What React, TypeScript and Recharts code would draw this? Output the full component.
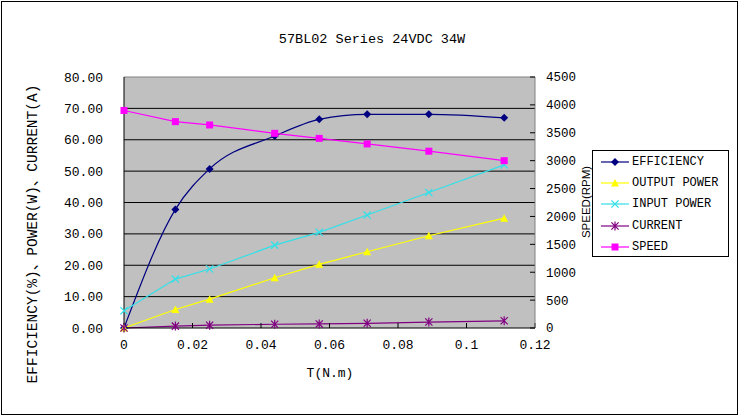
import React from 'react';
import { LineChart, Line, XAxis, YAxis, CartesianGrid, ReferenceLine } from 'recharts';

const TITLE = '57BL02 Series 24VDC 34W';
const TORQUE = [0, 0.015, 0.025, 0.044, 0.057, 0.071, 0.089, 0.111];
const EFFICIENCY = [0, 37.8, 50.7, 61.2, 66.5, 68.1, 68.1, 67.0];
const OUTPUT_POWER = [0, 5.9, 9.2, 16.0, 20.3, 24.3, 29.4, 35.0];
const INPUT_POWER = [5.5, 15.6, 18.8, 26.4, 30.5, 36.0, 43.2, 52.0];
const CURRENT = [0, 0.6, 0.9, 1.2, 1.3, 1.5, 1.9, 2.3];
const SPEED = [3900, 3700, 3640, 3490, 3400, 3300, 3170, 3000];
const SERIES_NAMES = ['EFFICIENCY', 'OUTPUT POWER', 'INPUT POWER', 'CURRENT', 'SPEED'];
const X_TICKS = [0, 0.02, 0.04, 0.06, 0.08, 0.1, 0.12];
const X_TICK_LABELS = ['0', '0.02', '0.04', '0.06', '0.08', '0.1', '0.12'];
const LEFT_TICKS = [0, 10, 20, 30, 40, 50, 60, 70, 80];
const RIGHT_TICKS = [0, 500, 1000, 1500, 2000, 2500, 3000, 3500, 4000, 4500];
const LEFT_LABEL = 'EFFICIENCY(%)、POWER(W)、CURRENT(A)';
const RIGHT_LABEL = 'SPEED(RPM)';
const X_LABEL = 'T(N.m)';

const rows = TORQUE.map((t, i) => ({
  t,
  eff: EFFICIENCY[i],
  out: OUTPUT_POWER[i],
  inp: INPUT_POWER[i],
  cur: CURRENT[i],
  spd: SPEED[i],
}));

const MONO = "'Liberation Mono', 'Noto Sans CJK SC', monospace";

type Kind = 'diamond' | 'triangle' | 'x' | 'star' | 'square';

function markerPath(kind: Kind, cx: number, cy: number): React.ReactNode {
  const s = 3.6;
  switch (kind) {
    case 'diamond':
      return <path d={`M${cx},${cy - 4}L${cx + 4},${cy}L${cx},${cy + 4}L${cx - 4},${cy}Z`} />;
    case 'triangle':
      return <path d={`M${cx},${cy - 4}L${cx + 4},${cy + 3.5}L${cx - 4},${cy + 3.5}Z`} />;
    case 'square':
      return <path d={`M${cx - 3.5},${cy - 3.5}h7v7h-7Z`} />;
    case 'x':
      return <path d={`M${cx - s},${cy - s}L${cx + s},${cy + s}M${cx + s},${cy - s}L${cx - s},${cy + s}`} strokeWidth={1.3} fill="none" />;
    case 'star':
      return (
        <path
          d={`M${cx - s},${cy - s}L${cx + s},${cy + s}M${cx + s},${cy - s}L${cx - s},${cy + s}M${cx},${cy - 4.5}L${cx},${cy + 4.5}`}
          strokeWidth={1.2}
          fill="none"
        />
      );
  }
}

function makeDot(kind: Kind, color: string) {
  return (props: any) => {
    const { cx, cy, index } = props;
    if (cx == null || cy == null) return <g key={`d-${index}`} />;
    return (
      <g key={`d-${kind}-${index}`} fill={color} stroke={color} strokeWidth={kind === 'x' || kind === 'star' ? 1.3 : 0}>
        {markerPath(kind, cx, cy)}
      </g>
    );
  };
}

const STYLE: { key: string; color: string; kind: Kind; axis: string; type: 'monotone' | 'linear' }[] = [
  { key: 'eff', color: '#000080', kind: 'diamond', axis: 'left', type: 'monotone' },
  { key: 'out', color: '#FFFF00', kind: 'triangle', axis: 'left', type: 'linear' },
  { key: 'inp', color: '#33E0E8', kind: 'x', axis: 'left', type: 'linear' },
  { key: 'cur', color: '#800080', kind: 'star', axis: 'left', type: 'linear' },
  { key: 'spd', color: '#FF00FF', kind: 'square', axis: 'right', type: 'linear' },
];

export default function App() {
  return (
    <div style={{ position: 'absolute', left: 0, top: 0, width: 740, height: 416, background: '#fff', overflow: 'hidden' }}>
      <div
        style={{
          position: 'absolute',
          left: 1,
          top: 1,
          width: 737,
          height: 414,
          border: '1px solid #000',
          boxSizing: 'border-box',
        }}
      />
      <div
        style={{
          position: 'absolute',
          left: 0,
          top: 31,
          width: 744,
          textAlign: 'center',
          fontFamily: MONO,
          fontSize: 13.5,
          lineHeight: '18px',
          color: '#000',
        }}
      >
        {TITLE}
      </div>
      <div style={{ position: 'absolute', left: 0, top: 0 }}>
        <LineChart width={740} height={416} data={rows} margin={{ top: 77, right: 0, bottom: 0, left: 0 }}>
          <CartesianGrid
            yAxisId="left"
            vertical={false}
            horizontal={true}
            horizontalValues={[10, 20, 30, 40, 50, 60, 70]}
            stroke="#000"
            strokeWidth={1}
            fill="#C0C0C0"
            fillOpacity={1}
          />
          <XAxis
            dataKey="t"
            type="number"
            domain={[0, 0.12]}
            ticks={X_TICKS}
            tickFormatter={(v: number) => X_TICK_LABELS[X_TICKS.indexOf(v)] ?? String(v)}
            height={88}
            axisLine={{ stroke: '#000' }}
            tickLine={{ stroke: '#000' }}
            tickSize={-5}
            tickMargin={17}
            tick={{ fill: '#000', fontFamily: MONO, fontSize: 13 }}
            interval={0}
            label={() => (
              <text x={330} y={373} textAnchor="middle" dominantBaseline="central" fontFamily={MONO} fontSize={13} fill="#000">
                {X_LABEL}
              </text>
            )}
          />
          <YAxis
            yAxisId="left"
            orientation="left"
            domain={[0, 80]}
            ticks={LEFT_TICKS}
            interval={0}
            width={124}
            axisLine={{ stroke: '#000' }}
            tickLine={false}
            tickSize={0}
            tickMargin={21}
            tickFormatter={(v: number) => v.toFixed(2)}
            tick={{ fill: '#000', fontFamily: MONO, fontSize: 13 }}
            label={() => (
              <text
                x={33}
                y={234}
                transform="rotate(-90 33 234)"
                textAnchor="middle"
                dominantBaseline="central"
                fontFamily={MONO}
                fontSize={14.5}
                fill="#000"
              >
                {LEFT_LABEL}
              </text>
            )}
          />
          <YAxis
            yAxisId="right"
            orientation="right"
            domain={[0, 4500]}
            ticks={RIGHT_TICKS}
            interval={0}
            width={205}
            axisLine={{ stroke: '#808080' }}
            tickLine={{ stroke: '#000' }}
            tickSize={-5}
            tickMargin={16}
            tick={{ fill: '#000', fontFamily: MONO, fontSize: 12.5 }}
            label={() => (
              <text
                x={586}
                y={202}
                transform="rotate(-90 586 202)"
                textAnchor="middle"
                dominantBaseline="central"
                fontFamily="'Liberation Sans', Arial, sans-serif"
                fontSize={11.5}
                fill="#000"
              >
                {RIGHT_LABEL}
              </text>
            )}
          />
          <ReferenceLine yAxisId="left" y={80} stroke="#808080" strokeWidth={1} />
          {STYLE.map((s) => (
            <Line
              key={s.key}
              yAxisId={s.axis}
              dataKey={s.key}
              type={s.type}
              stroke={s.color}
              strokeWidth={1.2}
              dot={makeDot(s.kind, s.color)}
              activeDot={false}
              isAnimationActive={false}
            />
          ))}
        </LineChart>
      </div>
      <div
        style={{
          position: 'absolute',
          left: 592,
          top: 150,
          width: 137,
          height: 107,
          border: '1px solid #000',
          boxSizing: 'border-box',
          background: '#fff',
          paddingTop: 0,
        }}
      >
        {SERIES_NAMES.map((name, i) => (
          <div key={name} style={{ display: 'flex', alignItems: 'center', height: 21.3 }}>
            <svg width={28} height={12} style={{ marginLeft: 8, marginRight: 3, flex: 'none' }}>
              <line x1={0} y1={6} x2={28} y2={6} stroke={STYLE[i].color} strokeWidth={1.2} />
              <g fill={STYLE[i].color} stroke={STYLE[i].color} strokeWidth={STYLE[i].kind === 'x' || STYLE[i].kind === 'star' ? 1.3 : 0}>
                {markerPath(STYLE[i].kind, 14, 6)}
              </g>
            </svg>
            <span style={{ fontFamily: MONO, fontSize: 12, color: '#000', whiteSpace: 'nowrap' }}>{name}</span>
          </div>
        ))}
      </div>
    </div>
  );
}
